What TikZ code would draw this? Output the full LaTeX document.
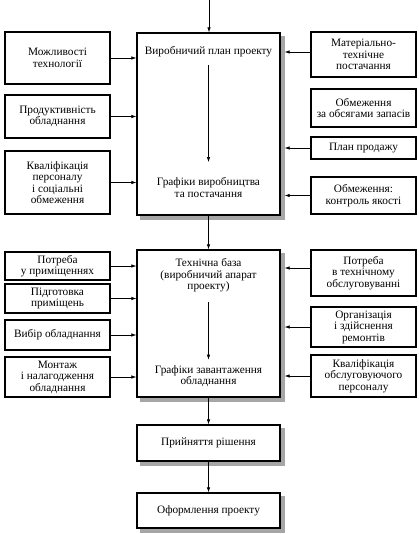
\documentclass[tikz,border=0pt]{standalone}
\usepackage{fontspec}
\setmainfont{Liberation Serif}
\usetikzlibrary{arrows.meta,positioning,backgrounds}

\begin{document}
\begin{tikzpicture}[
  x=1pt, y=-1pt,
  >={Latex[length=5pt,width=3.4pt]},
  every node/.style={font=\fontsize{11.3}{11.5}\selectfont, align=center, text=black},
  sidebox/.style={draw, line width=1.2pt, minimum width=105pt, inner sep=1pt},
  mainbox/.style={draw, line width=1.2pt, fill=white, minimum width=143pt},
  shadowfill/.style={fill=black!35},
  link/.style={->, line width=0.6pt}
]
  \useasboundingbox (0,0) rectangle (419,534);

  % Main boxes
  \node (m1) [mainbox, minimum height=182pt] at (208.5,124) {};
  \node (m2) [mainbox, minimum height=147pt] at (208.5,323.5) {};
  \node (dec) [mainbox, minimum height=36pt] at (208.5,443) {Прийняття рішення};
  \node (doc) [mainbox, minimum height=35pt] at (208.5,510.5) {Оформлення проекту};

  % Shadows of the main boxes
  \begin{pgfonlayer}{background}
    \foreach \b in {m1,m2,dec,doc}
      \path[shadowfill] ([xshift=4pt,yshift=-4pt]\b.south west) rectangle ([xshift=4pt,yshift=-4pt]\b.north east);
  \end{pgfonlayer}

  % Texts inside the main boxes
  \node (m1a) at (208.5,52) {Виробничий план проекту};
  \node (m1b) at (208.5,187.5) {Графіки виробництва\\та постачання};
  \node (m2a) at (208.5,275.5) {Технічна база\\(виробничий апарат\\проекту)};
  \node (m2b) at (208.5,376) {Графіки завантаження\\обладнання};

  % Left boxes
  \node (l1) [sidebox, minimum height=52pt] at (57.5,58) {Можливості\\технології};
  \node (l2) [sidebox, minimum height=43pt] at (57.5,116.5) {Продуктивність\\обладнання};
  \node (l3) [sidebox, minimum height=63pt] at (57.5,182.5) {Кваліфікація\\персоналу\\і соціальні\\обмеження};
  \node (l4) [sidebox, minimum height=28pt] at (57.5,266) {Потреба\\у приміщеннях};
  \node (l5) [sidebox, minimum height=29pt] at (57.5,298.5) {Підготовка\\приміщень};
  \node (l6) [sidebox, minimum height=30pt] at (57.5,335) {Вибір обладнання};
  \node (l7) [sidebox, minimum height=40pt] at (57.5,377) {Монтаж\\і налагодження\\обладнання};

  % Right boxes
  \node (r1) [sidebox, minimum height=45pt] at (363.5,54.5) {Матеріально-\\технічне\\постачання};
  \node (r2) [sidebox, minimum height=38pt] at (363.5,108) {Обмеження\\за обсягами запасів};
  \node (r3) [sidebox, minimum height=22pt] at (363.5,148) {План продажу};
  \node (r4) [sidebox, minimum height=37pt] at (363.5,195.5) {Обмеження:\\контроль якості};
  \node (r5) [sidebox, minimum height=46pt] at (363.5,273) {Потреба\\в технічному\\обслуговуванні};
  \node (r6) [sidebox, minimum height=40pt] at (363.5,327) {Організація\\і здійснення\\ремонтів};
  \node (r7) [sidebox, minimum height=42pt] at (363.5,376) {Кваліфікація\\обслуговуючого\\персоналу};

  % Vertical flow
  \coordinate (in) at (209,0);
  \draw[link] (in) -- (in |- m1.north);
  \draw[link, shorten <=4pt, shorten >=12pt] (m1a) -- (m1b);
  \draw[link] (m1.south) -- (m2.north);
  \draw[link, shorten <=6pt, shorten >=2pt] (m2a) -- (m2b);
  \draw[link] (m2.south) -- (dec.north);
  \draw[link] (dec.south) -- (doc.north);

  % Side arrows
  \foreach \b in {l1,l2,l3} \draw[link] (\b.east) -- (\b.east -| m1.west);
  \foreach \b in {l4,l5,l6,l7} \draw[link] (\b.east) -- (\b.east -| m2.west);
  \draw[link] ([yshift=2.5pt]r1.west) -- ([xshift=4pt,yshift=2.5pt]r1.west -| m1.east);
  \foreach \b in {r3,r4} \draw[link] (\b.west) -- ([xshift=4pt]\b.west -| m1.east);
  \draw[link] ([yshift=5pt]r5.west) -- ([xshift=4pt,yshift=5pt]r5.west -| m2.east);
  \foreach \b in {r6,r7} \draw[link] (\b.west) -- ([xshift=4pt]\b.west -| m2.east);
\end{tikzpicture}
\end{document}
